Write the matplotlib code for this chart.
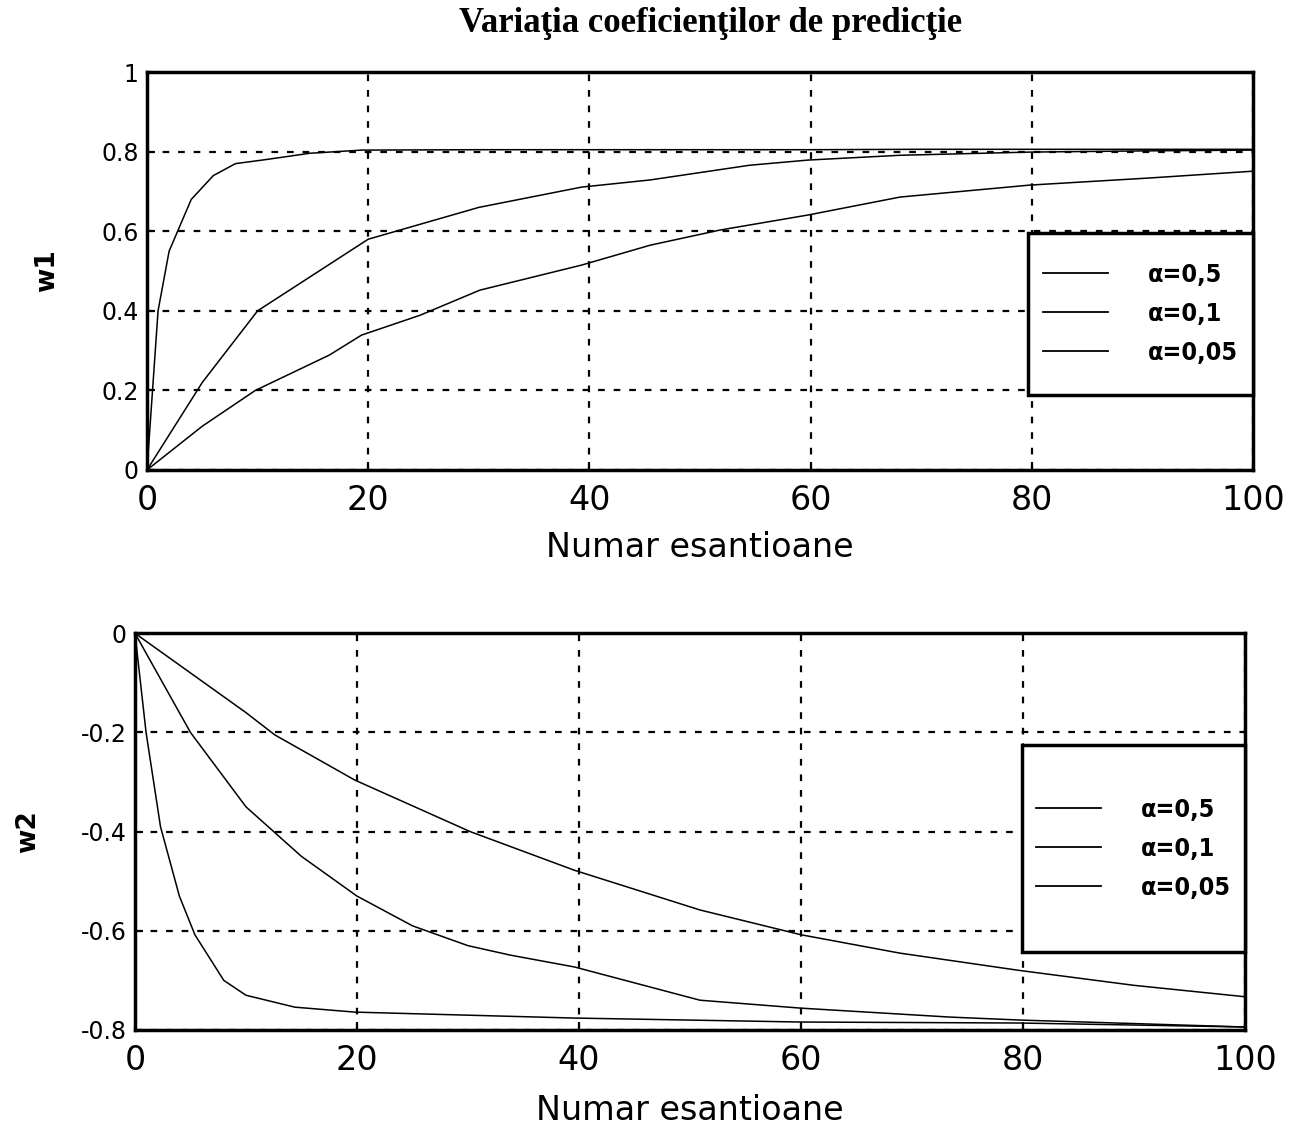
import matplotlib
matplotlib.use("Agg")
import matplotlib.pyplot as plt
from matplotlib.patches import Rectangle
from matplotlib.font_manager import FontProperties

# ---------------- data ----------------
title = "Variaţia coeficienţilor de predicţie"
xlabel = "Numar esantioane"
labels = ["α=0,5", "α=0,1", "α=0,05"]

x_ticks = [0, 20, 40, 60, 80, 100]
w1_ticks = [0, 0.2, 0.4, 0.6, 0.8, 1.0]
w1_ticklabels = ["0", "0.2", "0.4", "0.6", "0.8", "1"]
w2_ticks = [-0.8, -0.6, -0.4, -0.2, 0.0]
w2_ticklabels = ["-0.8", "-0.6", "-0.4", "-0.2", "0"]

# w1, alpha = 0.5
w1_a05_x = [0, 1, 2, 4, 6, 8, 10.7, 14.7, 19.4, 30, 40, 50, 60, 70, 80, 90, 100]
w1_a05_y = [0, 0.40, 0.55, 0.68, 0.74, 0.77, 0.78, 0.796, 0.804, 0.805, 0.805,
            0.805, 0.805, 0.806, 0.806, 0.806, 0.806]
# w1, alpha = 0.1
w1_a01_x = [0, 5, 10, 20, 30, 39.3, 45.5, 54.5, 59.8, 68.1, 79.8, 90, 100]
w1_a01_y = [0, 0.22, 0.40, 0.58, 0.66, 0.711, 0.729, 0.766, 0.779, 0.791,
            0.799, 0.802, 0.804]
# w1, alpha = 0.05
w1_a005_x = [0, 5, 9.8, 16.5, 19.4, 24.7, 30.1, 39.3, 45.5, 51.8, 59.8, 68.1,
             79.8, 90.7, 100]
w1_a005_y = [0, 0.11, 0.20, 0.289, 0.339, 0.389, 0.452, 0.515, 0.565, 0.603,
             0.641, 0.686, 0.716, 0.734, 0.751]

# w2, alpha = 0.5
w2_a05_x = [0, 1, 2.3, 4, 5.4, 8, 10, 14.4, 19.8, 39.6, 60, 79.7, 100]
w2_a05_y = [0, -0.20, -0.39, -0.53, -0.608, -0.70, -0.73, -0.754, -0.764,
            -0.776, -0.784, -0.786, -0.794]
# w2, alpha = 0.1
w2_a01_x = [0, 5, 10, 15, 20, 25, 30, 33.8, 39.6, 50.9, 60, 73.4, 79.7, 100]
w2_a01_y = [0, -0.20, -0.35, -0.45, -0.53, -0.59, -0.63, -0.649, -0.673,
            -0.74, -0.756, -0.774, -0.78, -0.794]
# w2, alpha = 0.05
w2_a005_x = [0, 5, 10, 12.6, 19.8, 30.2, 39.6, 50.9, 60, 68.9, 79.7, 90, 100]
w2_a005_y = [0, -0.08, -0.16, -0.205, -0.296, -0.40, -0.478, -0.558, -0.608,
             -0.645, -0.68, -0.71, -0.733]

# ---------------- drawing ----------------
tick_font = "DejaVu Sans"
fig = plt.figure(figsize=(12.94, 11.27), dpi=100)
fig.patch.set_facecolor("white")

ax1 = fig.add_axes([0.1136, 0.583, 0.8547, 0.353])
ax2 = fig.add_axes([0.1043, 0.0861, 0.8578, 0.352])

def style(ax, yticks, yticklabels, ylim, ylabel, ylabel_x, xlabelpad):
    ax.set_xlim(0, 100)
    ax.set_ylim(*ylim)
    ax.set_xticks(x_ticks)
    ax.set_xticklabels([str(v) for v in x_ticks], fontsize=24, family=tick_font)
    ax.set_yticks(yticks)
    ax.set_yticklabels(yticklabels, fontsize=17, family=tick_font)
    ax.tick_params(axis="x", direction="in", length=6, width=1.5, pad=10)
    ax.tick_params(axis="y", direction="in", length=6, width=1.5, pad=6)
    for s in ax.spines.values():
        s.set_linewidth(2.5)
    ax.grid(True, color="black", linestyle=(0, (3, 4)), linewidth=1.6)
    ax.set_axisbelow(True)
    ax.set_xlabel(xlabel, fontsize=24, family=tick_font, labelpad=xlabelpad)
    ax.set_ylabel(ylabel, fontsize=19, family=tick_font, weight="bold")
    ax.yaxis.set_label_coords(ylabel_x, 0.5)

style(ax1, w1_ticks, w1_ticklabels, (0, 1), "w1", -0.079, 10)
style(ax2, w2_ticks, w2_ticklabels, (-0.8, 0), "w2", -0.085, 12)

lw = 1.1
for ax, series in [
    (ax1, [(w1_a05_x, w1_a05_y), (w1_a01_x, w1_a01_y), (w1_a005_x, w1_a005_y)]),
    (ax2, [(w2_a05_x, w2_a05_y), (w2_a01_x, w2_a01_y), (w2_a005_x, w2_a005_y)]),
]:
    for (xs, ys), lab in zip(series, labels):
        ax.plot(xs, ys, color="black", linewidth=lw, label=lab, zorder=3)

leg_font = FontProperties(family="DejaVu Sans", stretch="condensed",
                          weight="bold", size=18)

# legend boxes
legend_boxes = {ax1: (0.797, 0.188, 0.203, 0.407), ax2: (0.799, 0.196, 0.201, 0.522)}
for ax, (x0, y0, w, h) in legend_boxes.items():
    rect = Rectangle((x0, y0), w, h, transform=ax.transAxes, facecolor="white",
                     edgecolor="black", linewidth=2.5, zorder=5, clip_on=False)
    ax.add_patch(rect)
    leg = ax.legend(loc="center", bbox_to_anchor=(x0, y0, w, h),
                    frameon=False, handlelength=2.6, handletextpad=1.6,
                    labelspacing=0.6, prop=leg_font)
    leg.set_zorder(6)
    for line in leg.get_lines():
        line.set_linewidth(1.3)

fig.text(0.549, 0.979, title, ha="center", va="center", fontsize=25,
         family="Liberation Serif", weight="bold")

fig.savefig("out.png", dpi=100, facecolor="white")
